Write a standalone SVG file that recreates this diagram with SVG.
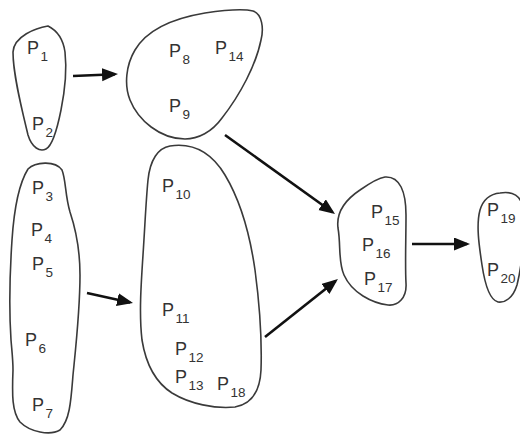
<svg xmlns="http://www.w3.org/2000/svg" width="520" height="434" viewBox="0 0 520 434">
<style>
.blob{fill:none;stroke:#3a3a3a;stroke-width:1.6;stroke-linejoin:round}
.lbl{font-family:"Liberation Sans",Arial,sans-serif;font-size:18px;fill:#333}
.sub{font-size:13.5px}
.arr{stroke:#111;stroke-width:2.6;fill:none}
</style>
<defs>
<marker id="ah" markerUnits="userSpaceOnUse" markerWidth="17" markerHeight="14" refX="13" refY="6.5" orient="auto">
<path d="M0,0 L16,6.5 L0,13 Z" fill="#111"/>
</marker>
</defs>
<rect width="520" height="434" fill="#fff"/>
<g id="connectors">
<line class="arr" x1="73" y1="76" x2="115" y2="74.2" marker-end="url(#ah)"/>
<line class="arr" x1="87" y1="293" x2="130.1" y2="302.4" marker-end="url(#ah)"/>
<line class="arr" x1="225" y1="135" x2="332.6" y2="212.2" marker-end="url(#ah)"/>
<line class="arr" x1="265" y1="337" x2="335.6" y2="280.9" marker-end="url(#ah)"/>
<line class="arr" x1="412" y1="244" x2="467" y2="244" marker-end="url(#ah)"/>
</g>
<g id="node-a">
<path class="blob" d="M48,26 C36,28 14,36 13,52 C13,75 22,110 28,135 C32,148 40,152 46,149 C52,146 57,130 61,110 C65,90 67,70 65,52 C63,38 56,30 48,26 Z"/>
<text class="lbl" x="27" y="54">P<tspan class="sub" dx="1.5" dy="7">1</tspan></text>
<text class="lbl" x="32" y="130">P<tspan class="sub" dx="1.5" dy="7">2</tspan></text>
</g>
<g id="node-b">
<path class="blob" d="M253,11 C262,14 264,28 261,40 C256,65 240,95 222,118 C212,132 198,139 185,139 C160,139 138,120 130,100 C124,85 126,65 135,50 C148,28 175,18 205,13 C225,10 245,9 253,11 Z"/>
<text class="lbl" x="169" y="57">P<tspan class="sub" dx="1.5" dy="7">8</tspan></text>
<text class="lbl" x="215" y="54">P<tspan class="sub" dx="1.5" dy="7">14</tspan></text>
<text class="lbl" x="169" y="112">P<tspan class="sub" dx="1.5" dy="7">9</tspan></text>
</g>
<g id="node-c">
<path class="blob" d="M28,169 C35,162 55,160 62,170 C66,180 65,195 70,212 C76,230 80,250 80,275 C80,310 76,345 73,375 C71,400 70,420 60,430 C50,436 30,432 20,422 C12,412 12,395 13,370 C13,360 12,352 11,340 C9,310 10,270 12,240 C14,210 18,185 28,169 Z"/>
<text class="lbl" x="32" y="194">P<tspan class="sub" dx="1.5" dy="7">3</tspan></text>
<text class="lbl" x="31" y="236">P<tspan class="sub" dx="1.5" dy="7">4</tspan></text>
<text class="lbl" x="32" y="270">P<tspan class="sub" dx="1.5" dy="7">5</tspan></text>
<text class="lbl" x="25" y="346">P<tspan class="sub" dx="1.5" dy="7">6</tspan></text>
<text class="lbl" x="32" y="411">P<tspan class="sub" dx="1.5" dy="7">7</tspan></text>
</g>
<g id="node-d">
<path class="blob" d="M170,146 C190,143 210,150 225,175 C240,200 250,235 255,270 C259,300 262,340 261,370 C260,392 252,404 235,407 C215,409 190,404 172,393 C155,382 146,365 142,340 C139,315 141,285 143,255 C145,225 146,200 148,180 C150,160 158,148 170,146 Z"/>
<text class="lbl" x="162" y="192">P<tspan class="sub" dx="1.5" dy="7">10</tspan></text>
<text class="lbl" x="162" y="316">P<tspan class="sub" dx="1.5" dy="7">11</tspan></text>
<text class="lbl" x="175" y="355">P<tspan class="sub" dx="1.5" dy="7">12</tspan></text>
<text class="lbl" x="175" y="383">P<tspan class="sub" dx="1.5" dy="7">13</tspan></text>
<text class="lbl" x="217" y="390">P<tspan class="sub" dx="1.5" dy="7">18</tspan></text>
</g>
<g id="node-e">
<path class="blob" d="M385,177 C400,176 406,192 406,215 C406,240 405,265 406,283 C407,298 398,306 388,305 C372,303 352,293 344,275 C338,262 341,245 338,228 C336,212 345,200 360,190 C370,183 378,178 385,177 Z"/>
<text class="lbl" x="371" y="218">P<tspan class="sub" dx="1.5" dy="7">15</tspan></text>
<text class="lbl" x="362" y="251">P<tspan class="sub" dx="1.5" dy="7">16</tspan></text>
<text class="lbl" x="364" y="285">P<tspan class="sub" dx="1.5" dy="7">17</tspan></text>
</g>
<g id="node-f">
<path class="blob" d="M500,193 C512,191 522,195 523,210 C524,235 522,265 517,285 C513,298 505,303 498,302 C490,300 485,285 482,265 C479,245 476,225 480,210 C483,200 490,194 500,193 Z"/>
<text class="lbl" x="487" y="216">P<tspan class="sub" dx="1.5" dy="7">19</tspan></text>
<text class="lbl" x="487" y="276">P<tspan class="sub" dx="1.5" dy="7">20</tspan></text>
</g>
</svg>
